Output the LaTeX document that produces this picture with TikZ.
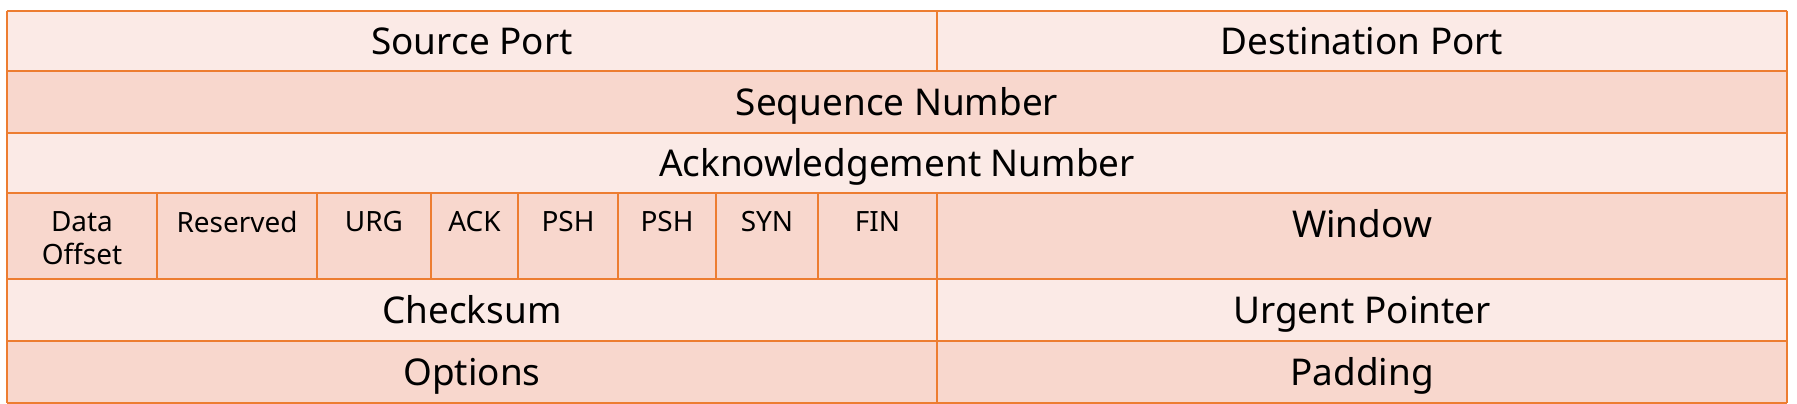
\documentclass[tikz,border=0pt]{standalone}
\usepackage{fontspec}
\setmainfont{Noto Sans}
\definecolor{gridline}{HTML}{ED7D31}
\definecolor{rowlight}{HTML}{FBEAE6}
\definecolor{rowdark}{HTML}{F8D7CD}
\tikzset{
	field/.style={font=\fontsize{21}{26}\selectfont, anchor=base, inner sep=0pt},
	flagtext/.style={font=\fontsize{15.9}{18.8}\selectfont, align=center, anchor=north, inner sep=0pt},
	cellline/.style={gridline, line width=1.35pt},
}
\begin{document}
\begin{tikzpicture}[x=0.02cm, y=-0.02cm]
	\useasboundingbox (0,0) rectangle (1797,404);
	
	% Row fills
	\fill[rowlight] (7,10.7) rectangle (1787,71.3);
	\fill[rowdark] (7,71.3) rectangle (1787,132.7);
	\fill[rowlight] (7,132.7) rectangle (1787,193.3);
	\fill[rowdark] (7,193.3) rectangle (1787,279);
	\fill[rowlight] (7,279) rectangle (1787,341);
	\fill[rowdark] (7,341) rectangle (1787,403);
	
	% Grid
	\foreach \y in {10.7, 71.3, 132.7, 193.3, 279, 341, 403}
		\draw[cellline] (7,\y) -- (1787,\y);
	\draw[cellline] (7,10.7) -- (7,403);
	\draw[cellline] (1787,10.7) -- (1787,403);
	\draw[cellline] (937,10.7) -- (937,71.3);
	\draw[cellline] (937,193.3) -- (937,403);
	\foreach \x in {157, 317, 431, 518, 618, 716, 818}
		\draw[cellline] (\x,193.3) -- (\x,279);
	
	% Header words
	\node[field] (src) at (472,54.5) {Source Port};
	\node[field] (dst) at (1362,54.5) {Destination Port};
	\node[field] (seq) at (897,115.5) {Sequence Number};
	\node[field] (ack) at (897,176.5) {Acknowledgement Number};
	
	% Flags
	\node[flagtext] (off) at (82,211) {Data\\Offset};
	\node[flagtext] (rsv) at (237,211) {Reserved};
	\node[flagtext] (urg) at (374,211) {URG};
	\node[flagtext] (ackf) at (474.5,211) {ACK};
	\node[flagtext] (psha) at (568,211) {PSH};
	\node[flagtext] (pshb) at (667,211) {PSH};
	\node[flagtext] (syn) at (767,211) {SYN};
	\node[flagtext] (fin) at (877.5,211) {FIN};
	\node[field] (win) at (1362,238) {Window};
	
	% Lower rows
	\node[field] (chk) at (472,323.5) {Checksum};
	\node[field] (urgp) at (1362,323.5) {Urgent Pointer};
	\node[field] (opt) at (472,385.5) {Options};
	\node[field] (pad) at (1362,385.5) {Padding};
	
\end{tikzpicture}
\end{document}
